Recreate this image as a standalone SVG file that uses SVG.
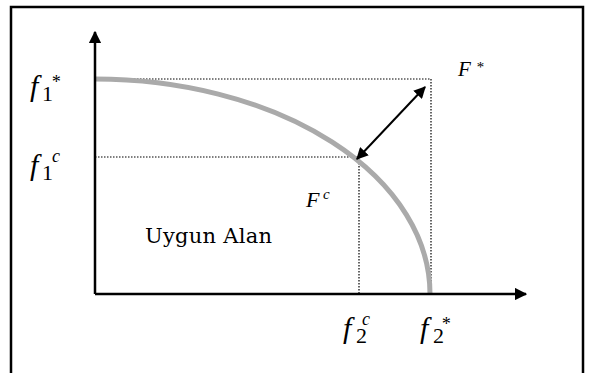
<svg xmlns="http://www.w3.org/2000/svg" width="589" height="373" viewBox="0 0 589 373">
<style>
.ax{stroke:#000;stroke-width:2.5;fill:none}
.dot{stroke:#000;stroke-width:1.2;stroke-dasharray:1.5 1.5;fill:none}
.m{font-family:"Liberation Serif","DejaVu Serif",serif;font-style:italic;fill:#000}
.n{font-family:"Liberation Serif","DejaVu Serif",serif;fill:#000}
.f{font-size:30px}
.sub{font-size:22px}
.sup{font-size:18px}
</style>
<defs>
<marker id="ah" viewBox="0 0 10 10" refX="9" refY="5" markerWidth="5" markerHeight="5" markerUnits="strokeWidth" orient="auto-start-reverse">
<path d="M0,0 L10,5 L0,10 Z" fill="#000"/>
</marker>
<marker id="ah2" viewBox="0 0 10 10" refX="9" refY="5" markerWidth="6" markerHeight="6" markerUnits="strokeWidth" orient="auto-start-reverse">
<path d="M0,0 L10,5 L0,10 Z" fill="#000"/>
</marker>
</defs>
<rect width="589" height="373" fill="#fff"/>
<rect x="11" y="7" width="572" height="370" fill="none" stroke="#000" stroke-width="2.5"/>
<g id="connectors">
<path class="dot" d="M95,79 H431 V294"/>
<path class="dot" d="M95,157 H359 V294"/>
<path d="M95,79 A335,215 0 0 1 430,294" fill="none" stroke="#aaa" stroke-width="5"/>
<line class="ax" x1="95" y1="294" x2="95" y2="32" marker-end="url(#ah)"/>
<line class="ax" x1="95" y1="294" x2="526" y2="294" marker-end="url(#ah)"/>
<line x1="357" y1="159" x2="425" y2="87" stroke="#000" stroke-width="2" marker-start="url(#ah2)" marker-end="url(#ah2)"/>
</g>
<g id="f1star">
<text class="m f" x="30" y="96">f</text>
<text class="n sub" x="42" y="101">1</text>
<text class="m sup" x="51" y="88">*</text>
</g>
<g id="f1c">
<text class="m f" x="30" y="175">f</text>
<text class="n sub" x="42" y="180">1</text>
<text class="m sup" x="52" y="162">c</text>
</g>
<g id="f2c">
<text class="m f" x="343" y="338">f</text>
<text class="n sub" x="356" y="343">2</text>
<text class="m sup" x="362" y="325">c</text>
</g>
<g id="f2star">
<text class="m f" x="420" y="338">f</text>
<text class="n sub" x="433" y="343">2</text>
<text class="m sup" x="441" y="330">*</text>
</g>
<g id="Fstar">
<text class="m" x="458" y="76" font-size="21">F</text>
<text class="m" x="476" y="72" font-size="15">*</text>
</g>
<g id="Fc">
<text class="m" x="306" y="207" font-size="22">F</text>
<text class="m" x="323" y="199" font-size="15">c</text>
</g>
<g id="uygun"><text x="145" y="243" font-family="'DejaVu Serif','Liberation Serif',serif" font-size="21" textLength="127" fill="#000">Uygun Alan</text></g>
</svg>
